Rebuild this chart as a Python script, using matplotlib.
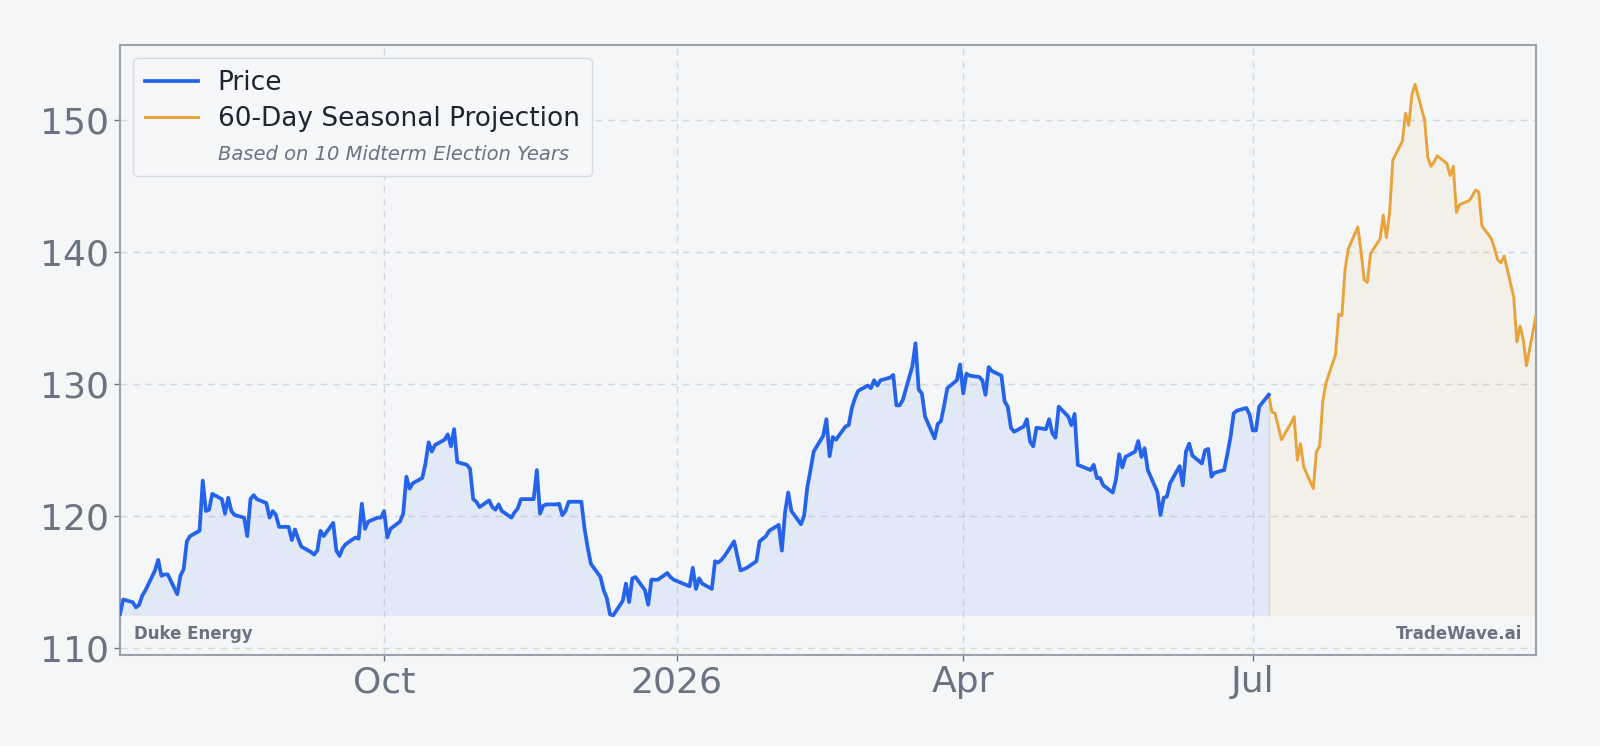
import matplotlib
matplotlib.use("Agg")
import matplotlib.pyplot as plt
from matplotlib.lines import Line2D
import pandas as pd

# ---------------- data ----------------
price_seg1 = [112.6, 113.7, 113.5, 113.1, 113.3, 114.0, 114.4, 115.9, 116.7, 115.5,
              115.6, 115.6, 114.1, 115.5, 116.0, 118.1, 118.5, 118.9, 122.7, 120.4,
              120.5, 121.7, 121.3, 120.2, 121.4, 120.4, 120.1, 119.9, 118.5, 121.3,
              121.6, 121.3, 121.0, 119.9, 120.4, 120.1, 119.2, 119.2, 118.2, 119.0,
              118.3, 117.7, 117.3, 117.1, 117.4, 118.9, 118.5, 119.5, 117.4, 117.0,
              117.6, 117.9, 118.4]
price_seg2 = [118.3, 120.95, 119.05, 119.6, 119.9, 119.9, 120.4, 118.4, 119.05, 119.6,
              120.2, 123.0, 122.1, 122.5, 122.9, 124.0, 125.6, 124.9, 125.4, 125.8,
              126.2, 125.3, 126.6, 124.1, 123.9, 123.6, 121.3, 121.1, 120.7, 121.2,
              120.7, 120.5, 120.9, 120.4, 119.9, 120.3, 120.6, 121.3, 121.3, 121.3,
              123.5, 120.2, 120.8, 120.9, 120.9, 120.95, 120.1, 120.4, 121.1, 121.1,
              121.1, 119.05, 117.6, 116.4, 115.4, 114.4]
price_seg3 = [113.8, 112.57, 112.5, 113.6, 114.9, 113.5, 115.3, 115.4, 114.4, 113.3,
              115.2, 115.2, 115.2, 115.7, 115.4, 115.2, 115.1, 115.0, 114.7,
              116.1, 114.5, 115.3, 114.9, 114.5, 116.6, 116.5, 116.7, 117.0, 118.1,
              117.0, 115.9, 116.0, 116.1, 116.6, 118.1, 118.3, 118.5, 118.9, 119.35,
              117.4, 120.3, 121.8, 120.4, 119.4, 120.05, 122.2, 123.5, 124.9, 126.1,
              127.35, 124.55, 126.0]
price_seg4 = [125.8, 126.8, 126.9, 128.2, 128.95, 129.5, 129.9, 129.7, 130.3, 129.9,
              130.3, 130.5, 130.7, 128.4, 128.4, 128.8, 131.35, 133.1, 129.6, 129.3,
              127.55, 125.9, 127.0, 127.2, 128.4, 129.7, 130.3, 131.5, 129.3, 130.8,
              130.65, 130.55, 130.3, 129.2, 131.3, 131.0, 130.65, 128.7, 128.3, 126.7,
              126.4, 126.8, 127.35, 125.65, 125.3, 126.7, 126.6, 127.35, 126.3,
              125.95, 128.3, 127.55, 126.9, 127.75, 123.9]
price_seg5 = [123.8, 123.5, 123.9, 122.9, 122.9, 122.35, 121.8, 122.8, 124.7, 123.7,
              124.5, 124.9, 125.7, 124.5, 125.15, 123.5, 121.85, 120.1, 121.4, 121.5,
              122.5, 123.8, 122.35, 124.9, 125.5, 124.6, 124.0, 125.0, 125.1,
              123.0, 123.3, 123.5, 124.7, 126.0, 127.8, 128.0, 128.2, 127.7,
              126.5, 126.5, 128.3, 129.2]
price = price_seg1 + price_seg2 + price_seg3 + price_seg4 + price_seg5
price_end = "2026-07-06"

projection = [129.2, 127.9, 127.8, 126.8, 125.8, 127.05, 127.55, 124.25, 125.5, 123.75,
              122.1, 124.9, 125.3, 128.7, 130.1, 132.25, 135.3, 135.2, 138.7, 140.25,
              141.9, 140.1, 137.9, 137.7, 139.9, 141.0, 142.8, 141.1, 143.0, 146.97,
              148.4, 150.5, 149.6, 151.9, 152.7, 150.0, 147.15, 146.5, 146.85, 147.3,
              146.7, 145.8, 146.5, 143.0, 143.6, 143.9, 144.25, 144.7, 144.55, 142.0,
              141.0, 140.25, 139.4, 139.2, 139.7, 136.6, 133.2, 134.4, 133.4, 131.4,
              135.2]

tick_dates = ["2025-10-01", "2026-01-01", "2026-04-01", "2026-07-01"]
tick_labels = ["Oct", "2026", "Apr", "Jul"]
y_ticks = [110, 120, 130, 140, 150]

legend_labels = ["Price", "60-Day Seasonal Projection", "Based on 10 Midterm Election Years"]
company = "Duke Energy"
brand = "TradeWave.ai"

# ---------------- style ----------------
BG = "#f4f6f8"
BLUE = "#2563eb"
ORANGE = "#e8a33a"
GRAY_TXT = "#6b7280"
SPINE = "#9ca0ad"

price_dates = pd.bdate_range(end=price_end, periods=len(price))
proj_dates = pd.bdate_range(start=price_end, periods=len(projection))

fig = plt.figure(figsize=(16, 7.46), dpi=100, facecolor=BG)
ax = fig.add_axes([0.075, 0.122, 0.885, 0.818])
ax.set_facecolor(BG)

all_vals = price + projection
ymin, ymax = min(all_vals) - 3, max(all_vals) + 3
base = min(all_vals)

ax.fill_between(price_dates, price, base, color=BLUE, alpha=0.09, linewidth=0)
ax.fill_between(proj_dates, projection, base, color=ORANGE, alpha=0.08, linewidth=0)
ax.plot([proj_dates[0], proj_dates[0]], [base, projection[0]], color="#d5d9e0", lw=1, zorder=2)
ax.plot(price_dates, price, color=BLUE, lw=2.7, zorder=4)
ax.plot(proj_dates, projection, color=ORANGE, lw=2.1, zorder=3)

ax.set_xlim(price_dates[0], proj_dates[-1])
ax.set_ylim(ymin, ymax)

ax.set_xticks(pd.to_datetime(tick_dates))
ax.set_xticklabels(tick_labels)
ax.set_yticks(y_ticks)
ax.tick_params(axis="both", labelsize=26, colors=GRAY_TXT, length=4, width=1)
ax.tick_params(axis="x", pad=3.5)
ax.tick_params(axis="y", pad=4)

ax.grid(True, color="#d4d8de", linestyle=(0, (5, 4)), linewidth=1)
ax.set_axisbelow(True)
for sp in ax.spines.values():
    sp.set_color(SPINE)
    sp.set_linewidth(1.5)

handles = [Line2D([], [], color=BLUE, lw=2.7),
           Line2D([], [], color=ORANGE, lw=2.1),
           Line2D([], [], color="none", lw=0)]
leg = ax.legend(handles, legend_labels, loc="upper left", fontsize=19,
                frameon=True, facecolor="#f6f7f9", edgecolor="#d7dbe0",
                framealpha=1, borderpad=0.45, labelspacing=0.38,
                handlelength=2.0, handletextpad=0.75, borderaxespad=0.5)
leg.get_frame().set_linewidth(1)
for t in leg.get_texts()[:2]:
    t.set_color("#1f2430")
sub = leg.get_texts()[2]
sub.set_fontstyle("italic")
sub.set_fontsize(14)
sub.set_color(GRAY_TXT)

ax.text(0.01, 0.034, company, transform=ax.transAxes, fontsize=12, fontweight="bold",
        color=GRAY_TXT, ha="left", va="center")
ax.text(0.99, 0.034, brand, transform=ax.transAxes, fontsize=12, fontweight="bold",
        color=GRAY_TXT, ha="right", va="center")

fig.savefig("out.png", dpi=100, facecolor=BG)
